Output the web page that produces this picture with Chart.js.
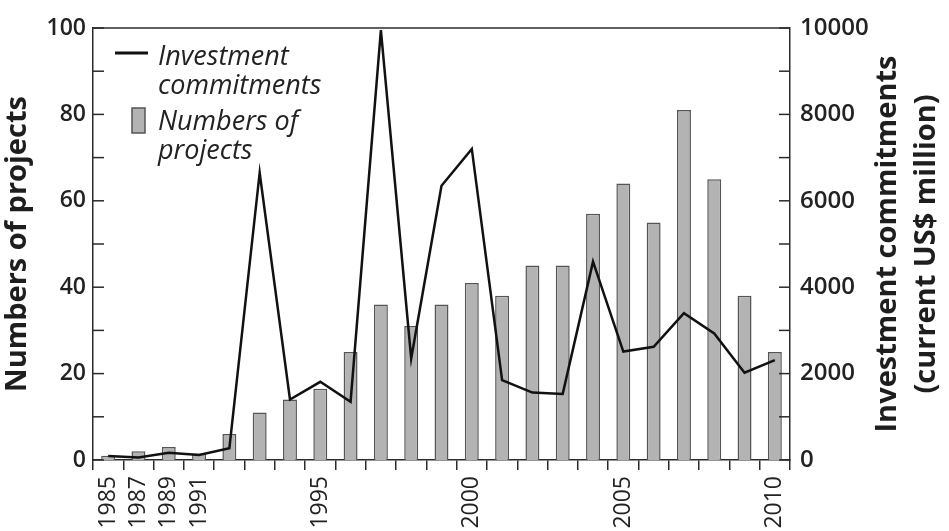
<!DOCTYPE html>
<html>
<head>
<meta charset="utf-8">
<script src="https://cdn.jsdelivr.net/npm/chart.js@4.4.1/dist/chart.umd.min.js"></script>
<style>
html, body { margin: 0; padding: 0; background: #fff; }
#wrap { width: 949px; height: 531px; }
</style>
</head>
<body>
<div id="wrap"><canvas id="projectsChart" width="949" height="531"></canvas></div>
<script>
// data
const years = ['1985', '1987', '1989', '1991', '1992', '1993', '1994', '1995', '1996', '1997', '1998', '1999',
    '2000', '2001', '2002', '2003', '2004', '2005', '2006', '2007', '2008', '2009', '2010'];
const shownYears = ['1985', '1987', '1989', '1991', '1995', '2000', '2005', '2010'];
const projects = [1, 2, 3, 1.5, 6, 11, 14, 16.5, 25, 36, 31, 36,
    41, 38, 45, 45, 57, 64, 55, 81, 65, 38, 25];
const investment = [90, 60, 170, 115, 270, 6650, 1400, 1810, 1350, 9950, 2350, 6350,
    7200, 1850, 1560, 1530, 4590, 2510, 2620, 3400, 2930, 2020, 2310];

const INK = '#2b2b2b';
const FONT = "'Open Sans'";

const framePlugin = {
    id: 'frame',
    afterDraw(chart) {
        const ctx = chart.ctx;
        const a = chart.chartArea;
        ctx.save();
        ctx.strokeStyle = INK;
        ctx.lineWidth = 1.5;

        // top border of the box
        ctx.beginPath();
        ctx.moveTo(a.left, a.top);
        ctx.lineTo(a.right, a.top);
        ctx.stroke();

        // inward tick marks on both y axes
        const yl = chart.scales.y;
        yl.ticks.forEach((t, i) => {
            const py = yl.getPixelForTick(i);
            ctx.beginPath();
            ctx.moveTo(a.left, py);
            ctx.lineTo(a.left + 11, py);
            ctx.stroke();
        });
        const yr = chart.scales.y1;
        yr.ticks.forEach((t, i) => {
            const py = yr.getPixelForTick(i);
            ctx.beginPath();
            ctx.moveTo(a.right, py);
            ctx.lineTo(a.right - 11, py);
            ctx.stroke();
        });

        // right axis title (reads bottom to top)
        ctx.fillStyle = '#1e1e1e';
        ctx.font = 'bold 29px ' + FONT;
        ctx.textAlign = 'center';
        ctx.textBaseline = 'middle';
        const cy = (a.top + a.bottom) / 2;
        ctx.save();
        ctx.translate(888, cy);
        ctx.rotate(-Math.PI / 2);
        ctx.fillText('Investment commitments', 0, 0);
        ctx.restore();
        ctx.save();
        ctx.translate(927, cy);
        ctx.rotate(-Math.PI / 2);
        ctx.fillText('(current US$ million)', 0, 0);
        ctx.restore();

        // legend
        const lx = a.left, ly = a.top;
        ctx.strokeStyle = '#111';
        ctx.lineWidth = 3;
        ctx.beginPath();
        ctx.moveTo(lx + 22, ly + 25);
        ctx.lineTo(lx + 55, ly + 25);
        ctx.stroke();

        ctx.fillStyle = '#b3b3b3';
        ctx.fillRect(lx + 39, ly + 80, 13, 25);
        ctx.strokeStyle = '#555';
        ctx.lineWidth = 1.5;
        ctx.strokeRect(lx + 39, ly + 80, 13, 25);

        ctx.fillStyle = '#222';
        ctx.font = 'italic 27px ' + FONT;
        ctx.textAlign = 'left';
        ctx.fillText('Investment', lx + 65, ly + 29);
        ctx.fillText('commitments', lx + 65, ly + 58);
        ctx.fillText('Numbers of', lx + 65, ly + 94);
        ctx.fillText('projects', lx + 65, ly + 123);
        ctx.restore();
    }
};

const ctx = document.getElementById('projectsChart').getContext('2d');
new Chart(ctx, {
    data: {
        labels: years,
        datasets: [{
            type: 'line',
            label: 'Investment commitments',
            data: investment,
            yAxisID: 'y1',
            borderColor: '#111',
            borderWidth: 2.5,
            pointRadius: 0,
            tension: 0,
            clip: false,
            order: 0
        }, {
            type: 'bar',
            label: 'Numbers of projects',
            data: projects,
            yAxisID: 'y',
            backgroundColor: '#b3b3b3',
            borderColor: '#555',
            borderWidth: 1.5,
            barPercentage: 0.46,
            categoryPercentage: 1.0,
            order: 1
        }]
    },
    options: {
        responsive: false,
        devicePixelRatio: 1,
        animation: false,
        layout: { padding: { top: 28, left: 0, right: 0, bottom: 0 } },
        plugins: {
            legend: { display: false },
            tooltip: { enabled: false }
        },
        scales: {
            x: {
                type: 'category',
                offset: true,
                grid: { offset: true, drawOnChartArea: false, drawTicks: true, tickLength: 10, color: INK, lineWidth: 1.5 },
                border: { color: INK, width: 1.5 },
                ticks: {
                    autoSkip: false,
                    maxRotation: 90,
                    minRotation: 90,
                    padding: 6,
                    color: '#222',
                    font: { family: FONT, size: 23 },
                    callback: function (v, i) {
                        return shownYears.includes(years[i]) ? years[i] : '';
                    }
                },
                afterFit(scale) { scale.height = 71; }
            },
            y: {
                position: 'left',
                min: 0,
                max: 100,
                grid: { display: false, drawTicks: false },
                border: { color: INK, width: 1.5 },
                ticks: {
                    stepSize: 10,
                    padding: 7,
                    color: '#222',
                    font: { family: FONT, size: 23, weight: '600' },
                    callback: v => (v % 20 === 0 ? v : '')
                },
                title: {
                    display: true,
                    text: 'Numbers of projects',
                    color: '#1e1e1e',
                    font: { family: FONT, size: 29, weight: 'bold' },
                    padding: { top: 0, bottom: 0 }
                },
                afterFit(scale) { scale.width = 93; }
            },
            y1: {
                position: 'right',
                min: 0,
                max: 10000,
                grid: { display: false, drawTicks: false },
                border: { color: INK, width: 1.5 },
                ticks: {
                    stepSize: 1000,
                    padding: 10,
                    color: '#222',
                    font: { family: FONT, size: 24, weight: '600' },
                    callback: v => (v % 2000 === 0 ? v : '')
                },
                afterFit(scale) { scale.width = 159; }
            }
        }
    },
    plugins: [framePlugin]
});
</script>
</body>
</html>
